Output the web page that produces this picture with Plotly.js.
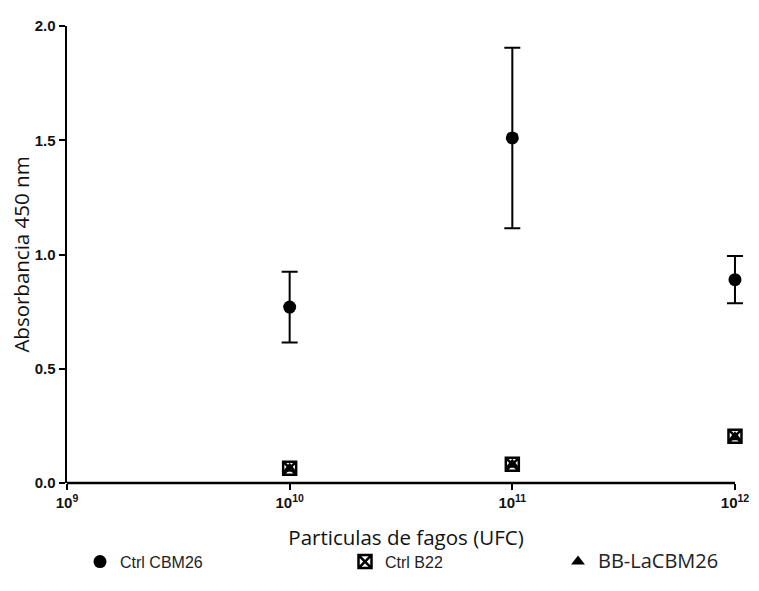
<!DOCTYPE html>
<html>
<head>
<meta charset="utf-8">
<script src="https://cdn.plot.ly/plotly-3.0.1.min.js"></script>
<style>html,body{margin:0;padding:0;background:#fff;}#chart{width:759px;height:591px;}</style>
</head>
<body>
<div id="chart"></div>
<script>
// Data
const particles = [1e10, 1e11, 1e12];
const ctrlCBM26 = [0.77, 1.51, 0.89];
const ctrlCBM26Err = [0.155, 0.395, 0.103];
const ctrlB22 = [0.065, 0.082, 0.205];
const bbLaCBM26 = [0.062, 0.08, 0.2];
const xTickVals = [1e9, 1e10, 1e11, 1e12];
const xTickText = ['10<sup>9</sup>', '10<sup>10</sup>', '10<sup>11</sup>', '10<sup>12</sup>'];
const yTickVals = [0, 0.5, 1.0, 1.5, 2.0];
const yTickText = ['0.0', '0.5', '1.0', '1.5', '2.0'];

// x range slightly past 10^12 so the last error-bar cap is not clipped
const xRangeLog = [9, 12.045];

const L = 67, R = 14, T = 26, B = 106;
const W = 759, H = 591;
const pw = W - L - R, ph = H - T - B;
function px2x(px) { return (px - L) / pw; }
function py2y(py) { return (H - B - py) / ph; }
const axisEndPaper = (12 - xRangeLog[0]) / (xRangeLog[1] - xRangeLog[0]);

const traces = [
  {
    x: particles, y: bbLaCBM26, type: 'scatter', mode: 'markers',
    name: '<span style="font-family:Open Sans;font-size:20px">BB-LaCBM26</span>',
    marker: {symbol: 'triangle-up', size: 12, color: '#000'},
    cliponaxis: false,
    legend: 'legend3'
  },
  {
    x: particles, y: ctrlB22, type: 'scatter', mode: 'markers',
    name: 'Ctrl B22',
    marker: {symbol: 'square-x-open', size: 13, color: '#000', line: {width: 2.5, color: '#000'}},
    cliponaxis: false,
    legend: 'legend2'
  },
  {
    x: particles, y: ctrlCBM26, type: 'scatter', mode: 'markers',
    name: 'Ctrl CBM26',
    marker: {symbol: 'circle', size: 13, color: '#000'},
    error_y: {type: 'data', array: ctrlCBM26Err, visible: true, color: '#000', thickness: 2, width: 8},
    cliponaxis: false,
    legend: 'legend'
  }
];

const legendFont = {family: 'Liberation Sans, Arial, sans-serif', size: 16, color: '#222'};
const legendBase = {orientation: 'h', yanchor: 'middle', xanchor: 'left', font: legendFont, bgcolor: 'rgba(0,0,0,0)', itemwidth: 30};

const tickFont = {family: 'Liberation Sans, Arial, sans-serif', size: 15, color: '#111', weight: 'bold'};
const titleFont = {family: 'Open Sans, sans-serif', size: 20.5, color: '#111'};

const layout = {
  width: W, height: H,
  margin: {l: L, r: R, t: T, b: B},
  paper_bgcolor: '#fff', plot_bgcolor: '#fff',
  xaxis: {
    type: 'log', range: xRangeLog,
    tickvals: xTickVals, ticktext: xTickText,
    showgrid: false, zeroline: false,
    showline: false,
    ticks: 'outside', ticklen: 6, tickwidth: 2, tickcolor: '#000',
    tickfont: tickFont,
    title: {text: 'Particulas de fagos (UFC)', font: titleFont, standoff: 20}
  },
  yaxis: {
    range: [0, 2],
    tickvals: yTickVals, ticktext: yTickText,
    showgrid: false, zeroline: false,
    showline: true, linecolor: '#000', linewidth: 2.5,
    ticks: 'outside', ticklen: 6, tickwidth: 2, tickcolor: '#000',
    tickfont: tickFont,
    title: {text: 'Absorbancia 450 nm', font: titleFont, standoff: 0}
  },
  shapes: [
    {type: 'line', xref: 'paper', yref: 'paper', x0: 0, x1: axisEndPaper, y0: 0, y1: 0,
     line: {color: '#000', width: 2.5}, layer: 'above'}
  ],
  legend: Object.assign({}, legendBase, {x: px2x(80), y: py2y(564)}),
  legend2: Object.assign({}, legendBase, {x: px2x(345), y: py2y(564)}),
  legend3: Object.assign({}, legendBase, {x: px2x(558), y: py2y(564)}),
  showlegend: true
};

Plotly.newPlot('chart', traces, layout, {displayModeBar: false, staticPlot: true});
</script>
</body>
</html>
